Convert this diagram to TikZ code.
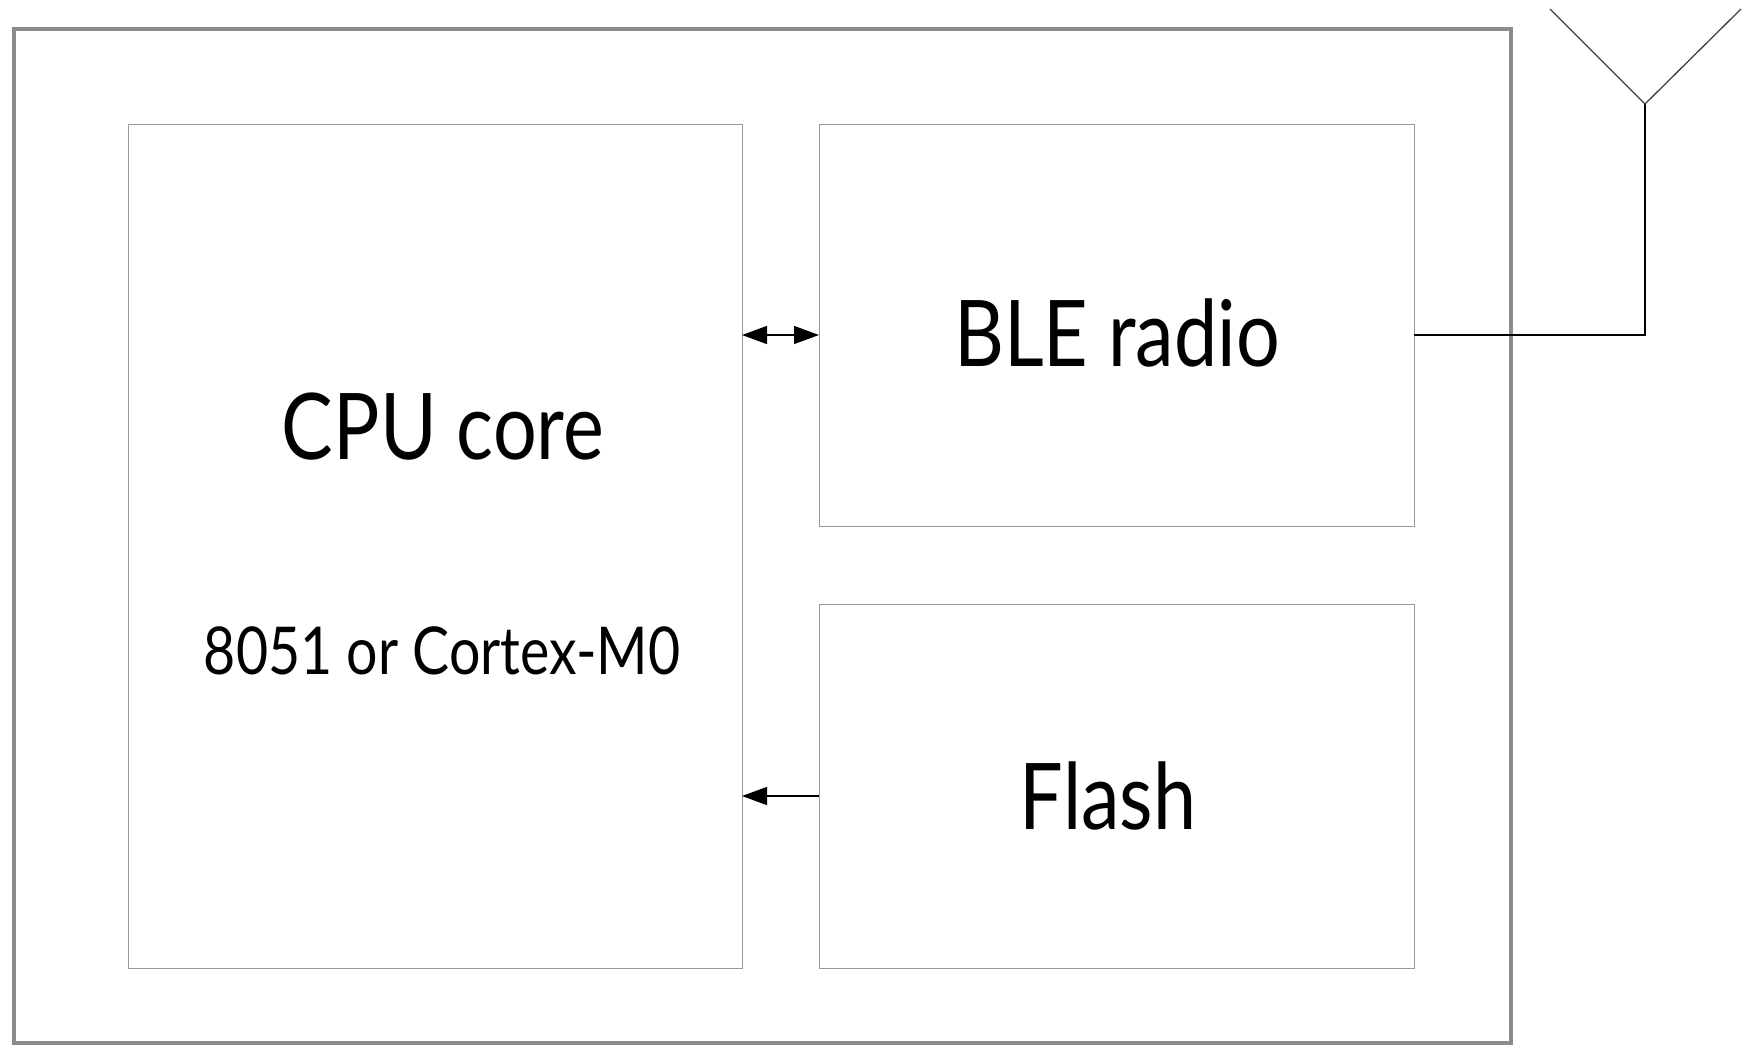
\documentclass[tikz,border=0pt]{standalone}
\usepackage{fontspec}
\setmainfont[FakeStretch=0.84]{Lato}
\usetikzlibrary{arrows.meta}
\begin{document}
\begin{tikzpicture}[x=1pt,y=-1pt,
  blk/.style={draw=black!40,line width=1pt,rectangle},
  conn/.style={draw=black,line width=1.3pt,{Triangle[length=25pt,width=18pt]}-{Triangle[length=25pt,width=18pt]}},
  conn1/.style={draw=black,line width=1.3pt,{Triangle[length=25pt,width=18pt]}-},
  wire/.style={draw=black,line width=1.3pt},
  lbl/.style={font=\fontsize{92}{100}\selectfont},
  sublbl/.style={font=\fontsize{66}{70}\selectfont}]
\useasboundingbox (0,0) rectangle (1745,1045);
\draw[draw=black!45,line width=4pt] (14,29) rectangle (1511,1043);
\draw[blk] (128,124) rectangle (742,968);
\coordinate (cpuE1) at (742,335);
\coordinate (cpuE2) at (742,796);
\draw[blk] (819,124) rectangle (1414,526);
\coordinate (bleW) at (819,335);
\coordinate (bleE) at (1414,335);
\draw[blk] (819,604) rectangle (1414,968);
\coordinate (flW) at (819,796);
\node[lbl,anchor=base] (cpu) at (443,459) {CPU core};
\node[sublbl,anchor=base] (sub) at (442,674) {8051 or Cortex-M0};
\node[lbl,anchor=base] (ble) at (1117,366) {BLE radio};
\node[lbl,anchor=base] (fl) at (1108,829) {Flash};
\draw[conn] (cpuE1) -- (bleW);
\draw[conn1] (cpuE2) -- (flW);
\coordinate (ant) at (1645,104);
\draw[wire] (bleE) -- (1645,335) -- (ant);
\draw[draw=black!75,line width=1.3pt] (1550,9) -- (ant) -- (1741,9);
\end{tikzpicture}
\end{document}
